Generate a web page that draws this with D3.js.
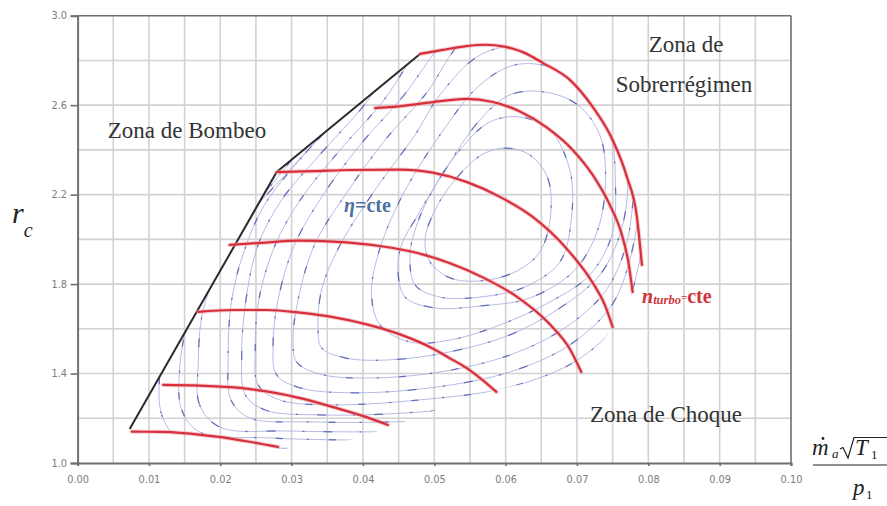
<!DOCTYPE html>
<html>
<head>
<meta charset="utf-8">
<script src="https://cdn.jsdelivr.net/npm/d3@7"></script>
<style>
  html, body { margin: 0; padding: 0; background: #fff; }
  svg { display: block; }
</style>
</head>
<body>
<svg id="chart" width="887" height="506"></svg>
<script>
// ---- axis ticks and grid --------------------------------------------------
const xTickValues = [0.00, 0.01, 0.02, 0.03, 0.04, 0.05, 0.06, 0.07, 0.08, 0.09, 0.10];
const yTickValues = [1.0, 1.4, 1.8, 2.2, 2.6, 3.0];
const xGridValues = [0.005, 0.01, 0.015, 0.02, 0.025, 0.03, 0.035, 0.04, 0.045, 0.05,
                     0.055, 0.06, 0.065, 0.07, 0.075, 0.08, 0.085, 0.09, 0.095];
const yGridValues = [1.2, 1.4, 1.6, 1.8, 2.0, 2.2, 2.4, 2.6, 2.8];

// ---- surge line (reduced mass flow, pressure ratio) -----------------------
const surgeLine = [[0.0073, 1.152], [0.0279, 2.301], [0.0480, 2.829]];

// ---- constant-speed lines, n_turbo = cte ----------------------------------
const speed1 = [[0.0076, 1.140], [0.0115, 1.139], [0.0148, 1.134], [0.0195, 1.118], [0.0241, 1.095], [0.0281, 1.072]];
const speed2 = [[0.0120, 1.349], [0.0171, 1.346], [0.0228, 1.336], [0.0265, 1.320], [0.0312, 1.290],
                [0.0358, 1.250], [0.0405, 1.205], [0.0435, 1.170]];
const speed3 = [[0.0169, 1.676], [0.0218, 1.684], [0.0265, 1.684], [0.0312, 1.672], [0.0358, 1.652],
                [0.0405, 1.620], [0.0452, 1.575], [0.0499, 1.510], [0.0522, 1.468], [0.0545, 1.425],
                [0.0566, 1.375], [0.0587, 1.318]];
const speed4 = [[0.0213, 1.975], [0.0256, 1.984], [0.0312, 1.994], [0.0358, 1.990], [0.0428, 1.968],
                [0.0475, 1.940], [0.0522, 1.893], [0.0568, 1.830], [0.0615, 1.745], [0.0662, 1.620],
                [0.0690, 1.510], [0.0706, 1.407]];
const speed5 = [[0.0279, 2.301], [0.0330, 2.305], [0.0382, 2.310], [0.0452, 2.312], [0.0498, 2.298],
                [0.0545, 2.257], [0.0592, 2.190], [0.0638, 2.100], [0.0685, 1.960], [0.0722, 1.806],
                [0.0739, 1.707], [0.0750, 1.608]];
const speed6 = [[0.0417, 2.587], [0.0442, 2.592], [0.0489, 2.610], [0.0545, 2.628], [0.0582, 2.614],
                [0.0620, 2.572], [0.0657, 2.502], [0.0694, 2.400], [0.0722, 2.288], [0.0746, 2.154],
                [0.0763, 2.020], [0.0772, 1.899], [0.0778, 1.765]];
const speed7 = [[0.0480, 2.829], [0.0512, 2.847], [0.0545, 2.864], [0.0572, 2.870], [0.0598, 2.862],
                [0.0625, 2.836], [0.0652, 2.789], [0.0690, 2.713], [0.0722, 2.592], [0.0750, 2.444],
                [0.0770, 2.279], [0.0784, 2.100], [0.0791, 1.886]];
const speedLines = [speed1, speed2, speed3, speed4, speed5, speed6, speed7];

// right-hand (choke) edge of the operating map, from the top speed line down to the lowest one
const chokeEdge = [[0.0791, 1.886], [0.0778, 1.765], [0.0750, 1.608], [0.0706, 1.407], [0.0648, 1.371],
                   [0.0587, 1.327], [0.0529, 1.269], [0.0480, 1.211], [0.0435, 1.157], [0.0382, 1.103],
                   [0.0312, 1.071], [0.0281, 1.063]];

// ---- iso-efficiency contours, eta = cte (innermost island first) ----------
const eta1 = [[0.0487, 1.997], [0.0494, 1.899], [0.0522, 1.828], [0.0564, 1.814], [0.0613, 1.854], [0.0648, 1.944],
              [0.0663, 2.109], [0.0659, 2.274], [0.0634, 2.377], [0.0599, 2.408], [0.0566, 2.377], [0.0529, 2.266],
              [0.0501, 2.131]];
const eta2 = [[0.0466, 1.930], [0.0473, 1.796], [0.0508, 1.742], [0.0564, 1.742], [0.0627, 1.787], [0.0676, 1.899],
              [0.0692, 2.087], [0.0690, 2.310], [0.0662, 2.489], [0.0620, 2.547], [0.0578, 2.525], [0.0536, 2.400],
              [0.0494, 2.198], [0.0473, 2.042]];
const eta3 = [[0.0449, 1.863], [0.0459, 1.742], [0.0501, 1.693], [0.0564, 1.702], [0.0634, 1.738], [0.0697, 1.863],
              [0.0729, 2.042], [0.0740, 2.266], [0.0732, 2.467], [0.0701, 2.601], [0.0655, 2.659], [0.0606, 2.646],
              [0.0564, 2.534], [0.0515, 2.310], [0.0477, 2.109], [0.0454, 1.975]];
const eta4 = [[0.0412, 1.751], [0.0424, 1.617], [0.0466, 1.541], [0.0522, 1.550], [0.0592, 1.617], [0.0662, 1.720],
              [0.0718, 1.841], [0.0749, 2.020], [0.0754, 2.243], [0.0746, 2.489], [0.0718, 2.668], [0.0669, 2.766],
              [0.0613, 2.780], [0.0564, 2.690], [0.0508, 2.467], [0.0452, 2.176], [0.0421, 1.930]];
const eta5 = [[0.0337, 1.595], [0.0342, 1.515], [0.0375, 1.470], [0.0437, 1.461], [0.0522, 1.497], [0.0606, 1.573],
              [0.0676, 1.693], [0.0732, 1.841], [0.0760, 2.020], [0.0771, 2.221], [0.0765, 2.489], [0.0739, 2.690],
              [0.0690, 2.824], [0.0627, 2.869], [0.0564, 2.824], [0.0508, 2.646], [0.0473, 2.467], [0.0417, 2.221],
              [0.0368, 1.975], [0.0342, 1.774]];
const eta6 = [[0.0302, 1.550], [0.0307, 1.452], [0.0339, 1.398], [0.0410, 1.380], [0.0508, 1.407], [0.0606, 1.483],
              [0.0683, 1.604], [0.0739, 1.765], [0.0767, 1.953], [0.0779, 2.198], [0.0777, 2.489], [0.0748, 2.735],
              [0.0697, 2.891], [0.0627, 2.958], [0.0549, 2.914], [0.0487, 2.646], [0.0431, 2.444], [0.0375, 2.198],
              [0.0332, 1.975], [0.0309, 1.729]];
const eta7 = [[0.0274, 1.528], [0.0279, 1.394], [0.0312, 1.336], [0.0382, 1.314], [0.0494, 1.336], [0.0606, 1.407],
              [0.0690, 1.528], [0.0749, 1.707], [0.0774, 1.908], [0.0788, 2.176], [0.0788, 2.489], [0.0760, 2.757],
              [0.0704, 2.936], [0.0627, 3.017], [0.0543, 2.972], [0.0452, 2.623], [0.0396, 2.422], [0.0344, 2.198],
              [0.0304, 1.975], [0.0281, 1.729]];
const eta8 = [[0.0249, 1.506], [0.0253, 1.349], [0.0283, 1.282], [0.0353, 1.260], [0.0479, 1.282], [0.0606, 1.340],
              [0.0701, 1.461], [0.0762, 1.649], [0.0785, 1.863], [0.0799, 2.176], [0.0799, 2.534], [0.0774, 2.847],
              [0.0718, 3.048], [0.0627, 3.115], [0.0536, 3.070], [0.0424, 2.601], [0.0368, 2.400], [0.0312, 2.176],
              [0.0277, 1.975], [0.0254, 1.729]];
const eta9 = [[0.0230, 1.483], [0.0235, 1.305], [0.0263, 1.237], [0.0339, 1.215], [0.0479, 1.228], [0.0619, 1.282],
              [0.0710, 1.394], [0.0774, 1.595], [0.0799, 1.818], [0.0813, 2.176], [0.0809, 2.534], [0.0781, 2.847],
              [0.0718, 3.048], [0.0619, 3.124], [0.0522, 3.070], [0.0396, 2.578], [0.0339, 2.377], [0.0286, 2.176],
              [0.0253, 1.975], [0.0236, 1.729]];
const eta10 = [[0.0211, 1.461], [0.0215, 1.282], [0.0241, 1.202], [0.0325, 1.184], [0.0479, 1.188], [0.0634, 1.228],
               [0.0725, 1.327], [0.0788, 1.528], [0.0810, 1.774], [0.0824, 2.176], [0.0818, 2.578], [0.0788, 2.891],
               [0.0718, 3.115], [0.0619, 3.182], [0.0508, 3.115], [0.0368, 2.556], [0.0311, 2.355], [0.0262, 2.154],
               [0.0234, 1.953], [0.0216, 1.729]];
const eta11 = [[0.0169, 1.439], [0.0171, 1.260], [0.0199, 1.161], [0.0298, 1.143], [0.0479, 1.143], [0.0647, 1.175],
               [0.0739, 1.260], [0.0802, 1.461], [0.0823, 1.729], [0.0837, 2.176], [0.0830, 2.623], [0.0795, 2.958],
               [0.0718, 3.182], [0.0613, 3.249], [0.0494, 3.182], [0.0353, 2.511], [0.0297, 2.310], [0.0241, 2.109],
               [0.0206, 1.930], [0.0176, 1.684]];
const eta12 = [[0.0143, 1.416], [0.0146, 1.237], [0.0171, 1.139], [0.0269, 1.112], [0.0452, 1.103], [0.0620, 1.121],
               [0.0732, 1.192], [0.0816, 1.416], [0.0844, 1.729], [0.0858, 2.176], [0.0844, 2.668], [0.0802, 3.070],
               [0.0718, 3.249], [0.0605, 3.316], [0.0479, 3.249], [0.0326, 2.467], [0.0255, 2.176], [0.0192, 1.908],
               [0.0157, 1.662]];
const eta13 = [[0.0115, 1.394], [0.0118, 1.215], [0.0141, 1.112], [0.0227, 1.076], [0.0423, 1.058], [0.0620, 1.076],
               [0.0760, 1.170], [0.0844, 1.416], [0.0872, 1.774], [0.0886, 2.221], [0.0872, 2.713], [0.0816, 3.160],
               [0.0718, 3.338], [0.0591, 3.383], [0.0451, 3.294], [0.0297, 2.422], [0.0227, 2.131], [0.0164, 1.863],
               [0.0126, 1.617]];
const etaContours = [eta1, eta2, eta3, eta4, eta5, eta6, eta7, eta8, eta9, eta10, eta11, eta12, eta13];

// ---- layout ---------------------------------------------------------------
const svg = d3.select("#chart");
const plot = { left: 77.6, right: 791, top: 15.7, bottom: 463 };

const x = d3.scaleLinear().domain([0, 0.10]).range([plot.left, plot.right]);
const y = d3.scaleLinear().domain([1.0, 3.0]).range([plot.bottom, plot.top]);

const gridColor = "#d2d2d2";
const frameColor = "#6f6f6f";

// grid
const grid = svg.append("g");
grid.selectAll("line.gx").data(xGridValues).join("line")
  .attr("x1", d => x(d)).attr("x2", d => x(d))
  .attr("y1", y(1.0)).attr("y2", y(3.0))
  .attr("stroke", gridColor).attr("stroke-width", 1.6);
grid.selectAll("line.gy").data(yGridValues).join("line")
  .attr("x1", x(0)).attr("x2", x(0.10))
  .attr("y1", d => y(d)).attr("y2", d => y(d))
  .attr("stroke", gridColor).attr("stroke-width", 1.6);

// frame (top and right)
svg.append("line").attr("x1", x(0)).attr("x2", x(0.10)).attr("y1", y(3.0)).attr("y2", y(3.0))
  .attr("stroke", frameColor).attr("stroke-width", 1.6);
svg.append("line").attr("x1", x(0.10)).attr("x2", x(0.10)).attr("y1", y(1.0)).attr("y2", y(3.0))
  .attr("stroke", frameColor).attr("stroke-width", 1.6);

// clip region: inside surge line, top speed line, choke edge and lowest speed line
const envelope = [].concat(surgeLine, speed7.slice(1), chokeEdge.slice(1), speed1.slice().reverse());
svg.append("clipPath").attr("id", "mapArea")
  .append("path")
  .attr("d", d3.line().x(d => x(d[0])).y(d => y(d[1]))(envelope) + "Z");

// efficiency contours: thin light line with sparse darker dashes on top
const closedLine = d3.line().x(d => x(d[0])).y(d => y(d[1])).curve(d3.curveCatmullRomClosed.alpha(0.5));
const contourG = svg.append("g").attr("clip-path", "url(#mapArea)");
contourG.selectAll("path.base").data(etaContours).join("path")
  .attr("d", closedLine)
  .attr("fill", "none").attr("stroke", "#aeb2e2").attr("stroke-width", 0.9);
contourG.selectAll("path.dash").data(etaContours).join("path")
  .attr("d", closedLine)
  .attr("fill", "none").attr("stroke", "#3f4aa8").attr("stroke-width", 1.3)
  .attr("stroke-opacity", 0.7)
  .attr("stroke-dasharray", (d, i) => i % 2 ? "7,24,2,20" : "2,19,9,27");

// surge line
const openLine = d3.line().x(d => x(d[0])).y(d => y(d[1]));
svg.append("path").attr("d", openLine(surgeLine))
  .attr("fill", "none").attr("stroke", "#2b2b2b").attr("stroke-width", 2)
  .attr("stroke-linejoin", "round");

// constant-speed lines
const speedLine = d3.line().x(d => x(d[0])).y(d => y(d[1])).curve(d3.curveMonotoneX);
const speedG = svg.append("g");
speedG.selectAll("path.halo").data(speedLines).join("path")
  .attr("d", speedLine)
  .attr("fill", "none").attr("stroke", "#f2a2a8").attr("stroke-width", 4.2)
  .attr("stroke-opacity", 0.55).attr("stroke-linecap", "round");
speedG.selectAll("path.main").data(speedLines).join("path")
  .attr("d", speedLine)
  .attr("fill", "none").attr("stroke", "#d6303c").attr("stroke-width", 2.2)
  .attr("stroke-linecap", "round");

// axes
const yAxis = svg.append("g").attr("transform", `translate(${plot.left},0)`)
  .call(d3.axisLeft(y).tickValues(yTickValues).tickFormat(d3.format(".1f")).tickSize(7).tickPadding(3.5));
const xAxis = svg.append("g").attr("transform", `translate(0,${plot.bottom})`)
  .call(d3.axisBottom(x).tickValues(xTickValues).tickFormat(d3.format(".2f")).tickSize(3).tickPadding(10));
[yAxis, xAxis].forEach(a => {
  a.select(".domain").attr("stroke", frameColor).attr("stroke-width", 2);
  a.selectAll(".tick line").attr("stroke", frameColor).attr("stroke-width", 1.6);
  a.selectAll(".tick text")
    .attr("fill", "#7c7c7c")
    .attr("font-family", "DejaVu Sans, Verdana, sans-serif")
    .attr("font-size", 9.8);
});

// region labels
const serif = "Liberation Serif, Times New Roman, serif";
const labels = svg.append("g").attr("font-family", serif).attr("font-size", 23).attr("fill", "#333")
  .attr("text-anchor", "middle");
labels.append("text").attr("x", 187).attr("y", 138).text("Zona de Bombeo");
labels.append("text").attr("x", 686).attr("y", 52).text("Zona de");
labels.append("text").attr("x", 684).attr("y", 92).text("Sobrerrégimen");
labels.append("text").attr("x", 666).attr("y", 422).text("Zona de Choque");

// eta = cte
const etaLabel = svg.append("text").attr("x", 344).attr("y", 212)
  .attr("font-family", serif).attr("font-weight", "bold").attr("font-size", 20).attr("fill", "#4d6fa3");
etaLabel.append("tspan").attr("font-style", "italic").text("η");
etaLabel.append("tspan").text("=cte");

// n_turbo = cte
const nLabel = svg.append("text").attr("x", 642).attr("y", 303)
  .attr("font-family", serif).attr("font-weight", "bold").attr("fill", "#cf3439");
nLabel.append("tspan").attr("font-style", "italic").attr("font-size", 20).text("n");
nLabel.append("tspan").attr("font-style", "italic").attr("font-size", 12.5).attr("dy", 1).text("turbo");
nLabel.append("tspan").attr("font-size", 11).attr("dy", -3).text("=");
nLabel.append("tspan").attr("font-size", 20).attr("dy", 2).text("cte");

// y-axis title r_c
const rc = svg.append("text").attr("x", 12).attr("y", 223)
  .attr("font-family", serif).attr("font-style", "italic").attr("fill", "#222");
rc.append("tspan").attr("font-size", 30).text("r");
rc.append("tspan").attr("font-size", 20).attr("dy", 14).text("c");

// x-axis title: m_a sqrt(T_1) / p_1
const xt = svg.append("g").attr("font-family", serif).attr("font-style", "italic").attr("fill", "#222");
xt.append("text").attr("x", 812).attr("y", 455).attr("font-size", 23).text("m");
xt.append("circle").attr("cx", 823).attr("cy", 438.5).attr("r", 1.4).attr("fill", "#222");
xt.append("text").attr("x", 832).attr("y", 458).attr("font-size", 13).text("a");
xt.append("path").attr("d", "M840,449 L843,447.5 L848,458 L854,437.5 L887,437.5")
  .attr("fill", "none").attr("stroke", "#222").attr("stroke-width", 1.2);
xt.append("text").attr("x", 855).attr("y", 455).attr("font-size", 23).text("T");
xt.append("text").attr("x", 871).attr("y", 459).attr("font-size", 13).attr("font-style", "normal").text("1");
xt.append("line").attr("x1", 813).attr("x2", 887).attr("y1", 465).attr("y2", 465)
  .attr("stroke", "#222").attr("stroke-width", 1.2);
xt.append("text").attr("x", 853).attr("y", 495).attr("font-size", 23).text("p");
xt.append("text").attr("x", 866).attr("y", 499).attr("font-size", 13).attr("font-style", "normal").text("1");
</script>
</body>
</html>
